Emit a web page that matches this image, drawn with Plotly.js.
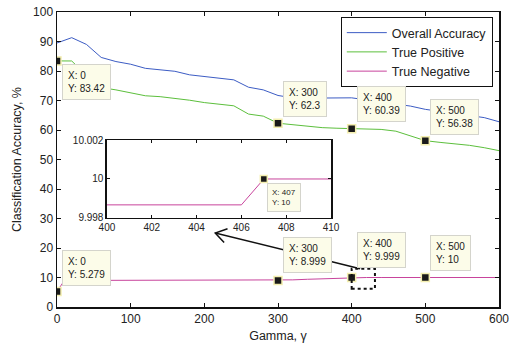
<!DOCTYPE html>
<html>
<head>
<meta charset="utf-8">
<script src="https://cdn.plot.ly/plotly-3.0.1.min.js"></script>
<style>html,body{margin:0;padding:0;background:#fff;}#chart{width:519px;height:347px;}</style>
</head>
<body>
<div id="chart"></div>
<script>
// ---- data ----
const gamma = [0,10,20,40,60,80,100,120,140,160,180,200,220,240,260,280,300,320,340,360,380,400,420,440,460,480,500,520,540,560,580,600];
const overallAccuracy = [89.5,90.4,91.3,89.0,84.6,83.2,82.3,80.9,80.5,79.9,78.7,78.2,77.6,77.0,74.5,73.6,71.7,70.9,70.8,70.8,70.8,70.9,70.2,69.5,68.8,68.1,67.0,66.3,65.6,65.0,64.2,62.8];
const truePositive = [83.42,83.42,83.4,78.5,74.4,73.6,72.5,71.6,71.3,70.8,70.1,69.3,68.7,68.2,65.4,64.7,62.3,61.8,61.1,60.8,60.6,60.39,60.3,60.2,59.6,57.9,56.38,55.8,55.3,54.8,54.0,53.0];
const trueNegative = [5.279,9.0,9.0,9.0,9.0,9.0,9.0,9.0,9.0,9.0,9.0,9.0,9.0,9.0,9.0,9.0,8.999,9.2,9.4,9.6,9.8,9.999,10,10,10,10,10,10,10,10,10,10];
const seriesNames = ["Overall Accuracy","True Positive","True Negative"];

// data tips on main axes
const tipX = [0,300,400,500,0,300,400,500];
const tipY = [83.42,62.3,60.39,56.38,5.279,8.999,9.999,10];
const tipYLabel = ["83.42","62.3","60.39","56.38","5.279","8.999","9.999","10"];

// inset (zoom) data
const insetX = [400,406,407,410];
const insetY = [9.99867,9.99867,10,10];
const insetTipX = [407];
const insetTipY = [10];
const insetTipYLabel = ["10"];

// ---- styling ----
const FONT = "Liberation Sans, Arial, sans-serif";
const cBlue = "#3c5cc4", cGreen = "#5cbf3c", cPink = "#c8449c";
const W = 519, H = 347, M = {l:57, r:20, t:12, b:40};
const plotW = W - M.l - M.r, plotH = H - M.t - M.b;
const xr = [0,600], yr = [0,100];
const pxX = (xr[1]-xr[0])/plotW, pxY = (yr[1]-yr[0])/plotH;

const traces = [
  {x:gamma, y:overallAccuracy, name:seriesNames[0], mode:"lines", line:{color:cBlue, width:1}},
  {x:gamma, y:truePositive, name:seriesNames[1], mode:"lines", line:{color:cGreen, width:1}},
  {x:gamma, y:trueNegative, name:seriesNames[2], mode:"lines", line:{color:cPink, width:1}},
  {x:tipX, y:tipY, mode:"markers", showlegend:false, hoverinfo:"skip",
   marker:{symbol:"square", size:8, color:"#1a1a1a", line:{color:"#f3eeb0", width:1.5}}},
  {x:insetX, y:insetY, xaxis:"x2", yaxis:"y2", mode:"lines", showlegend:false, line:{color:cPink, width:1}},
  {x:insetTipX, y:insetTipY, xaxis:"x2", yaxis:"y2", mode:"markers", showlegend:false, hoverinfo:"skip",
   marker:{symbol:"square", size:7, color:"#1a1a1a", line:{color:"#f3eeb0", width:1.5}}}
];

// data tip boxes
const tipPlace = [
  {ya:"top", xs:5, ys:-3},
  {ya:"bottom", xs:5, ys:6},
  {ya:"bottom", xs:5, ys:7},
  {ya:"bottom", xs:5, ys:6},
  {ya:"bottom", xs:5, ys:5},
  {ya:"bottom", xs:5, ys:7},
  {ya:"bottom", xs:5, ys:10},
  {ya:"bottom", xs:5, ys:7}
];
const annotations = tipX.map((x,i)=>({
  x:x, y:tipY[i], xref:"x", yref:"y", showarrow:false,
  text:"X: "+x+"<br>Y: "+tipYLabel[i], align:"left",
  xanchor:"left", yanchor:tipPlace[i].ya, xshift:tipPlace[i].xs, yshift:tipPlace[i].ys,
  bgcolor:"#fcfce9", bordercolor:"#d4d4cc", borderwidth:1, borderpad:5,
  font:{family:FONT, size:10, color:"#222"}
}));
annotations.push({
  x:insetTipX[0], y:insetTipY[0], xref:"x2", yref:"y2", showarrow:false,
  text:"X: "+insetTipX[0]+"<br>Y: "+insetTipYLabel[0], align:"left",
  xanchor:"left", yanchor:"top", xshift:3, yshift:-4,
  bgcolor:"#fcfce9", bordercolor:"#d4d4cc", borderwidth:1, borderpad:4,
  font:{family:FONT, size:8, color:"#222"}
});

// arrow from zoom box to inset (open V head)
const tail = {x:411.5, y:13.0}, head = {x:214.8, y:25.1};
const dxp = (tail.x-head.x)/pxX, dyp = -(tail.y-head.y)/pxY;
const len = Math.hypot(dxp,dyp), ux = dxp/len, uy = dyp/len;
const ang = 33*Math.PI/180, armL = 13;
function arm(s){
  const rx = ux*Math.cos(ang) - s*uy*Math.sin(ang);
  const ry = s*ux*Math.sin(ang) + uy*Math.cos(ang);
  return {x: head.x + rx*armL*pxX, y: head.y - ry*armL*pxY};
}
const a1 = arm(1), a2 = arm(-1);
const shapes = [
  {type:"line", xref:"x", yref:"y", x0:tail.x, y0:tail.y, x1:head.x, y1:head.y, line:{color:"#111", width:1.5}},
  {type:"path", xref:"x", yref:"y", path:`M${a1.x},${a1.y} L${head.x},${head.y} L${a2.x},${a2.y}`, line:{color:"#111", width:1.5}},
  {type:"rect", xref:"x", yref:"y", x0:400, x1:431.6, y0:6.2, y1:13.0, line:{color:"#111", width:2, dash:"dot"}}
];

const axisCommon = {showline:true, linecolor:"#111", mirror:"ticks", ticks:"inside", tickcolor:"#111",
  showgrid:false, zeroline:false};

const layout = {
  width:W, height:H, margin:M,
  paper_bgcolor:"#fff", plot_bgcolor:"#fff",
  font:{family:FONT, color:"#222"},
  showlegend:true,
  legend:{x:0.986, y:0.983, xanchor:"right", yanchor:"top", bgcolor:"#fff", bordercolor:"#111", borderwidth:1,
    font:{family:FONT, size:12.5, color:"#222"}, tracegroupgap:0, itemwidth:40},
  xaxis:Object.assign({}, axisCommon, {range:xr, dtick:100, ticklen:4, linewidth:1.5,
    tickfont:{family:FONT, size:12, color:"#222"},
    title:{text:"Gamma, \u03b3", font:{family:FONT, size:12.5, color:"#222"}, standoff:6}}),
  yaxis:Object.assign({}, axisCommon, {range:yr, dtick:10, ticklen:4, linewidth:1.5,
    tickfont:{family:FONT, size:12, color:"#222"},
    title:{text:"Classification Accuracy, %", font:{family:FONT, size:12.5, color:"#222"}, standoff:8}}),
  xaxis2:Object.assign({}, axisCommon, {domain:[0.113,0.620], anchor:"y2", range:[400,410], dtick:2, ticklen:3, linewidth:1.5,
    tickfont:{family:FONT, size:10, color:"#222"}}),
  yaxis2:Object.assign({}, axisCommon, {domain:[0.302,0.566], anchor:"x2", range:[9.998,10.002],
    tickvals:[9.998,10,10.002], ticktext:["9.998","10","10.002"], ticklen:3, linewidth:1.5,
    tickfont:{family:FONT, size:10, color:"#222"}}),
  annotations:annotations,
  shapes:shapes
};

Plotly.newPlot("chart", traces, layout, {staticPlot:true, displayModeBar:false});
</script>
</body>
</html>
